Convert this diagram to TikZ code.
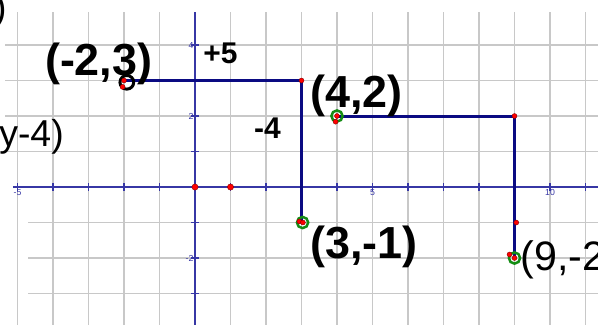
\documentclass[tikz,border=0pt]{standalone}
\usepackage{fontspec}
\setmainfont{Liberation Sans}
\usepackage{xcolor}
\usetikzlibrary{positioning}

\definecolor{axisblue}{RGB}{55,55,165}
\definecolor{pathnavy}{RGB}{10,10,130}
\definecolor{gridgray}{RGB}{200,200,200}
\definecolor{ringgreen}{RGB}{20,140,20}

\begin{document}
\begin{tikzpicture}[
    gridline/.style={gridgray, line width=1.4pt},
    axis/.style={axisblue, line width=1.5pt},
    tickmark/.style={axisblue, line width=1pt},
    ticklbl/.style={axisblue, font=\fontsize{7}{8}\selectfont, inner sep=1pt},
    segment/.style={pathnavy, line width=2.4pt},
    dot/.style={circle, fill=red, draw=red!50!black, line width=0.3pt, inner sep=0pt, minimum size=4pt},
    ring/.style={circle, draw=ringgreen, line width=2pt, inner sep=0pt, minimum size=9pt},
    bigl/.style={font=\bfseries\fontsize{36}{40}\selectfont, inner sep=0pt, anchor=base west},
    stepl/.style={font=\bfseries\fontsize{24}{28}\selectfont, inner sep=0pt, anchor=base west},
    plainl/.style={font=\fontsize{30}{34}\selectfont, inner sep=0pt}
]
\useasboundingbox (-5.493,-3.859) rectangle (11.352,5.268);

% Grid
\foreach \x in {-5,...,11}
    \draw[gridline] (\x,-3.9) -- (\x,4.93);
\foreach \y in {1,...,4}
    \draw[gridline] (-5.35,\y) -- (11.4,\y);
\foreach \y in {-3,...,-1}
    \draw[gridline] (-4.7,\y) -- (11.4,\y);

% Axes
\draw[axis] (-5.13,0) -- (11.4,0);
\draw[axis] (0,-3.9) -- (0,4.93);
\foreach \x in {-5,...,11}
    \draw[tickmark] (\x,-0.1) -- (\x,0.1);
\foreach \y in {-3,...,4}
    \draw[tickmark] (-0.1,\y) -- (0.1,\y);
\node[ticklbl, below=1pt] (xm5) at (-5,0) {-5};
\node[ticklbl, below=1pt] (x5) at (5,0) {5};
\node[ticklbl, below=1pt] (x10) at (10,0) {10};
\node[ticklbl, left=0pt] (y4) at (0,4) {4};
\node[ticklbl, left=0pt] (y2) at (0,2) {2};
\node[ticklbl, left=0pt] (ym2) at (0,-2) {-2};

% Points
\coordinate (s1) at (-2,3);
\coordinate (c1) at (3,3);
\coordinate (e1) at (3,-1);
\coordinate (s2) at (4,2);
\coordinate (c2) at (9,2);
\coordinate (e2) at (9,-2);

% Steps
\draw[segment] (s1) -- (c1) -- (e1);
\draw[segment] (s2) -- (c2) -- (e2);

% Markers
\node[ring, draw=black, line width=2.4pt, minimum size=11pt] (r1) at ([shift={(0.08,-0.05)}]s1) {};
\node[ring] (r2) at ([shift={(0.03,0)}]e1) {};
\node[ring] (r3) at (s2) {};
\node[ring] (r4) at (e2) {};
\node[dot] (d1) at (s1) {};
\node[dot] (d2) at ([shift={(-0.04,-0.18)}]s1) {};
\node[dot] (d3) at (c1) {};
\node[dot] (d4) at ([shift={(-0.06,0.03)}]e1) {};
\node[dot] (d5) at ([shift={(0.04,0)}]e1) {};
\node[dot] (d6) at (s2) {};
\node[dot] (d7) at ([shift={(-0.04,-0.16)}]s2) {};
\node[dot] (d8) at (c2) {};
\node[dot] (d9) at (9.05,-1) {};
\node[dot] (d10) at (e2) {};
\node[dot] (d11) at ([shift={(-0.14,0.1)}]e2) {};
\node[dot, minimum size=5pt] (o) at (0,0) {};
\node[dot, minimum size=5pt] (one) at (1,0) {};

% Labels
\node[bigl] (ls1) at (-4.23,3.15) {(-2,3)};
\node[stepl] (lup) at (0.23,3.49) {+5};
\node[bigl] (ls2) at (3.24,2.25) {(4,2)};
\node[stepl] (ldown) at (1.66,1.38) {-4};
\node[bigl] (le1) at (3.24,-2.0) {(3,-1)};
\node[plainl, anchor=base west, font=\fontsize{33}{36}\selectfont] (le2) at (9.16,-2.34) {(9,-2};
\node[plainl, anchor=base east] (leq) at (-3.69,1.13) {y-4)};
\node[plainl, anchor=base east] (lcut) at (-5.3,4.68) {)};
\end{tikzpicture}
\end{document}
